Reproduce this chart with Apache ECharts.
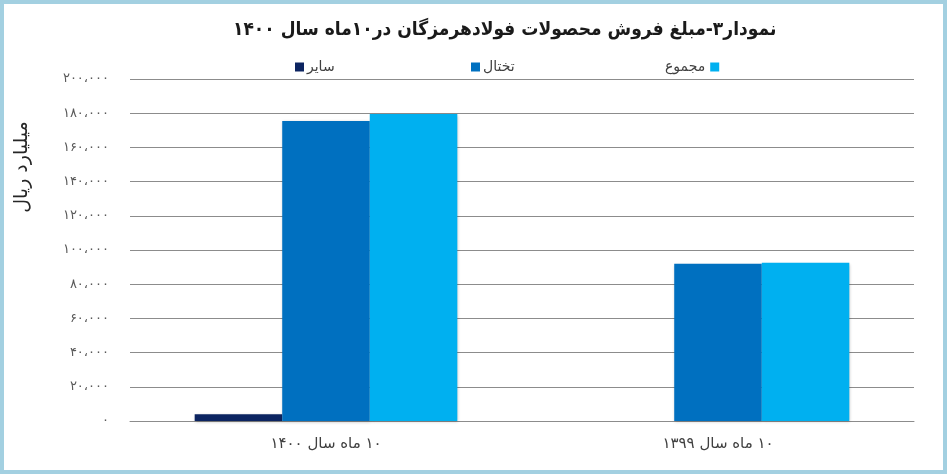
<!DOCTYPE html>
<html>
<head>
<meta charset="utf-8">
<script src="https://cdn.jsdelivr.net/npm/echarts@6/dist/echarts.min.js"></script>
<style>
  html, body { margin: 0; padding: 0; background: #fff; }
  #chart { width: 947px; height: 474px; box-sizing: border-box; border: 4px solid #a3d0e1; }
</style>
</head>
<body>
<div id="chart" dir="rtl"></div>
<script>
// data
const categories = ['۱۰ ماه سال ۱۴۰۰', '۱۰ ماه سال ۱۳۹۹'];
const sayer = [4000, 0];
const takhtal = [175400, 92000];
const majmu = [179600, 92500];
const seriesNames = ['سایر', 'تختال', 'مجموع'];
const titleText = 'نمودار۳-مبلغ فروش محصولات فولادهرمزگان در۱۰ماه سال ۱۴۰۰';
const yName = 'میلیارد ریال';

const faDigits = '۰۱۲۳۴۵۶۷۸۹';
function toFa(v) {
  let s = String(v).replace(/\B(?=(\d{3})+(?!\d))/g, '،');
  return s.replace(/\d/g, d => faDigits[d]);
}

const colors = ['#0c2461', '#0070c0', '#00b0f0'];
const font = '"DejaVu Sans", sans-serif';
const condensed = '"DejaVu Sans Condensed", "DejaVu Sans", sans-serif';

let myChart = echarts.init(document.getElementById('chart'));
const legendBase = {
  top: 51,
  itemWidth: 9,
  itemHeight: 9,
  itemGap: 4,
  icon: 'rect',
  textStyle: { fontFamily: font, fontSize: 14, color: '#404040', padding: [0, 0, 0, -2] }
};
myChart.setOption({
  animation: false,
  color: colors,
  title: {
    text: titleText,
    left: 224,
    top: 12,
    textStyle: { fontFamily: condensed, fontSize: 19, fontWeight: 'bold', color: '#1a1a1a' }
  },
  legend: [
    Object.assign({}, legendBase, { data: [seriesNames[0]], left: 286, align: 'left' }),
    Object.assign({}, legendBase, { data: [seriesNames[1]], left: 462, align: 'left' }),
    Object.assign({}, legendBase, { data: [seriesNames[2]], left: 656, align: 'right' })
  ],
  graphic: [{
    type: 'text',
    x: 18,
    y: 163,
    rotation: Math.PI / 2,
    style: {
      text: yName,
      fontFamily: font,
      fontSize: 19,
      fill: '#262626',
      align: 'center',
      verticalAlign: 'middle'
    }
  }],
  grid: { left: 126, right: 29, top: 75, bottom: 49 },
  xAxis: {
    type: 'category',
    data: categories,
    axisLine: { lineStyle: { color: '#8c8c8c' } },
    axisTick: { length: 8, lineStyle: { color: '#8c8c8c' } },
    axisLabel: { fontFamily: font, fontSize: 15, color: '#404040', margin: 16 }
  },
  yAxis: {
    type: 'value',
    min: 0,
    max: 200000,
    interval: 20000,
    axisLine: { show: false },
    axisTick: { show: false },
    splitLine: { lineStyle: { color: '#8c8c8c' } },
    axisLabel: {
      fontFamily: font, fontSize: 13, color: '#595959', margin: 21,
      formatter: v => toFa(v)
    }
  },
  series: [sayer, takhtal, majmu].map((d, i) => ({
    name: seriesNames[i],
    type: 'bar',
    data: d,
    barGap: '0%',
    barCategoryGap: '33%',
    itemStyle: { shadowBlur: 3, shadowColor: 'rgba(0,0,0,0.25)', shadowOffsetX: 1, shadowOffsetY: 1 }
  }))
});
</script>
</body>
</html>
